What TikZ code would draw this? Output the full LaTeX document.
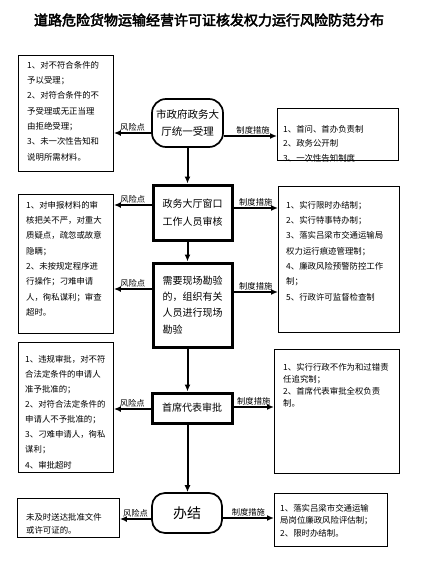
\documentclass[tikz,border=0pt]{standalone}
\usepackage{fontspec}
\setmainfont{Noto Sans CJK SC}[AutoFakeBold=3]
\usetikzlibrary{arrows.meta,calc}
\begin{document}
\begin{tikzpicture}[x=1pt,y=-1pt,
  box/.style={draw,line width=0.9pt,inner sep=0pt,anchor=north west},
  txt/.style={inner sep=0pt,anchor=north west,align=left,font=\fontsize{8.4}{15.3}\selectfont},
  thick box/.style={draw,line width=3pt,inner sep=0pt,align=center,font=\fontsize{10}{18}\selectfont},
  round box/.style={draw,line width=1.7pt,rounded corners=14pt,inner sep=0pt,align=center,font=\fontsize{10.5}{17}\selectfont},
  down/.style={line width=2pt,-{Latex[length=7pt,width=6pt]}},
  lar/.style={line width=2pt,-{Latex[length=7pt,width=6pt]}},
  rar/.style={line width=1.4pt,-{Latex[length=7pt,width=6pt]}},
  lab/.style={font=\fontsize{8.3}{9}\selectfont,inner sep=0.8pt,above}
]
\useasboundingbox (0,0) rectangle (433,573);
\fill[white] (0,0) rectangle (433,573);

\node[font=\fontsize{14}{16}\selectfont\bfseries] (T) at (209,20) {道路危险货物运输经营许可证核发权力运行风险防范分布};

% central nodes
\node[round box,minimum width=71pt,minimum height=48pt] (N1) at (187.5,123) {市政府政务大\\厅统一受理};
\node[thick box,minimum width=79pt,minimum height=55pt] (N2) at (192.5,212.5) {政务大厅窗口\\工作人员审核};
\node[thick box,minimum width=79pt,minimum height=84pt,align=left,font=\fontsize{10}{16.3}\selectfont] (N3) at (192.5,305) {需要现场勘验\\的，组织有关\\人员进行现场\\勘验};
\node[thick box,minimum width=80pt,minimum height=30pt] (N4) at (192,408) {首席代表审批};
\node[round box,minimum width=70pt,minimum height=40pt,rounded corners=13pt,font=\fontsize{14}{16}\selectfont] (N5) at (187,513) {办结};

% left boxes
\node[box,minimum width=95pt,minimum height=116pt] (L1) at (18,55) {};
\node[txt] at (27,61) {1、对不符合条件的\\予以受理；\\2、对符合条件的不\\予受理或无正当理\\由拒绝受理；\\3、未一次性告知和\\说明所需材料。};
\node[box,minimum width=95pt,minimum height=139pt] (L2) at (18,194) {};
\node[txt] at (26,201) {1、对申报材料的审\\核把关不严，对重大\\质疑点，疏忽或故意\\隐瞒；\\2、未按规定程序进\\行操作；刁难申请\\人，徇私谋利；审查\\超时。};
\node[box,minimum width=95pt,minimum height=130pt] (L3) at (18,342) {};
\node[txt,font=\fontsize{8.4}{15.1}\selectfont] at (25,355) {1、违规审批，对不符\\合法定条件的申请人\\准予批准的；\\2、对符合法定条件的\\申请人不予批准的；\\3、刁难申请人，徇私\\谋利；\\4、审批超时};
\node[box,minimum width=102pt,minimum height=39pt] (L4) at (17,498) {};
\node[txt,font=\fontsize{8.4}{13}\selectfont] at (26,513) {未及时送达批准文件\\或许可证的。};

% right boxes
\node[box,minimum width=121pt,minimum height=52pt] (R1) at (277,108) {};
\node[txt,font=\fontsize{8.4}{14.5}\selectfont] at (283,125) {1、首问、首办负责制\\2、政务公开制\\3、一次性告知制度};
\node[box,minimum width=121pt,minimum height=146pt] (R2) at (278,186) {};
\node[txt] at (286,201) {1、实行限时办结制；\\2、实行特事特办制；\\3、落实吕梁市交通运输局\\权力运行痕迹管理制；\\4、廉政风险预警防控工作\\制；\\5、行政许可监督检查制};
\node[box,minimum width=125pt,minimum height=124pt] (R3) at (274,349) {};
\node[txt,font=\fontsize{8.4}{12}\selectfont] at (283,363) {1、实行行政不作为和过错责\\任追究制；\\2、首席代表审批全权负责\\制。};
\node[box,minimum width=113pt,minimum height=53pt] (R4) at (274,493) {};
\node[txt,font=\fontsize{8.4}{12.5}\selectfont] at (280,504) {1、落实吕梁市交通运输\\局岗位廉政风险评估制；\\2、限时办结制。};

% vertical arrows
\draw[down] (N1.south) -- (N2.north -| N1.south);
\draw[down] (N2.south -| N1.south) -- (N3.north -| N1.south);
\draw[down] (N3.south -| N1.south) -- (N4.north -| N1.south);
\draw[down] (N4.south -| N1.south) -- (N5.north -| N1.south);

% left arrows (risk points)
\draw[lar] (N1.west |- 0,133) -- node[lab] {风险点} (L1.east |- 0,133);
\draw[lar] (N2.west |- 0,205) -- node[lab] {风险点} (L2.east |- 0,205);
\draw[lar] (N3.west |- 0,289) -- node[lab] {风险点} (L2.east |- 0,289);
\draw[lar] (N4.west |- 0,409) -- node[lab] {风险点} (L3.east |- 0,409);
\draw[lar] (N5.west |- 0,519) -- node[lab] {风险点} (L4.east |- 0,519);

% right arrows (measures)
\draw[rar] (N1.east |- 0,136) -- node[lab,pos=0.55] {制度措施} (R1.west |- 0,136);
\draw[rar] (N2.east |- 0,208) -- node[lab] {制度措施} (R2.west |- 0,208);
\draw[rar] (N3.east |- 0,292) -- node[lab] {制度措施} (R2.west |- 0,292);
\draw[rar] (N4.east |- 0,407) -- node[lab] {制度措施} (R3.west |- 0,407);
\draw[rar] (N5.east |- 0,518) -- node[lab] {制度措施} (R4.west |- 0,518);
\end{tikzpicture}
\end{document}
